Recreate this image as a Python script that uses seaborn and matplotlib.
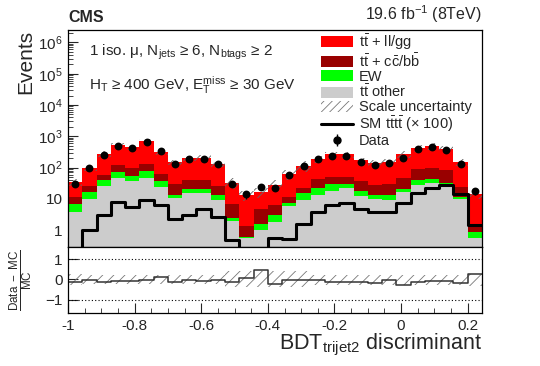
import numpy as np
import pandas as pd
import matplotlib
matplotlib.use("Agg")
import matplotlib.pyplot as plt
import seaborn as sns
from matplotlib.patches import Patch
from matplotlib.lines import Line2D
from matplotlib.ticker import FixedLocator, FixedFormatter, LogLocator, MultipleLocator, NullFormatter

# BDT_trijet2 binning: 29 bins of width 1.5/35 starting at -1
edges = np.linspace(-1.0, 0.5, 36)[:30]
centers = 0.5 * (edges[:-1] + edges[1:])
bin_list = list(edges)

# stacked backgrounds (events per bin)
tt_other = [3.8, 9.8, 26, 47, 37, 48, 24, 11, 15, 15, 9.1, 2.0, 0.55, 1.05, 1.85,
            5.8, 9.1, 13.8, 17.7, 21.6, 12.5, 9.6, 9.1, 16.4, 27.5, 32, 28, 10, 0.57]
ew = [3.0, 7.2, 14, 26, 17, 29, 13, 2.0, 5.5, 5.0, 3.9, 0.4, 0.06, 0.5, 1.15,
      1.6, 5.9, 7.7, 11.3, 9.4, 5.5, 4.2, 4.0, 3.6, 12.5, 12, 4, 1.5, 0.32]
tt_ccbb = [4.7, 9.0, 17, 47, 46, 58, 25, 16.5, 19.5, 20, 12.5, 4.4, 0.73, 3.15, 3.3,
           4.1, 8.0, 20.5, 21, 19, 18, 13.7, 17.9, 28, 47, 56, 51, 12.5, 0.51]
tt_llgg = [22.5, 73, 223, 400, 355, 565, 248, 118.5, 160, 164, 104.5, 26.2, 11.56, 11.5, 22.2,
           50.5, 92, 150, 214, 215, 135, 115.5, 119, 232, 349, 400, 308, 128, 13]

# SM tttt signal scaled by 100
tttt_x100 = [0, 1.0, 3.0, 8.0, 5.6, 9.3, 6.3, 2.2, 3.0, 4.6, 2.7, 0.48, 0, 0, 0.57,
             0.54, 1.6, 3.8, 6.6, 7.4, 4.6, 3.7, 3.7, 7.2, 14.9, 23, 27, 14, 1.5]

data = [29, 98, 250, 490, 426, 680, 350, 128, 195, 190, 126, 29, 14, 24, 22,
        60, 113, 186, 230, 236, 152, 120, 145, 210, 388, 460, 360, 129, 18]

# relative scale uncertainty (up / down)
scale_up = [0.25, 0.2, 0.2, 0.2, 0.2, 0.2, 0.2, 0.2, 0.2, 0.2, 0.2, 0.4, 0.4, 0.4, 0.4,
            0.4, 0.4, 0.22, 0.22, 0.22, 0.22, 0.22, 0.22, 0.22, 0.22, 0.22, 0.22, 0.22, 0.25]
scale_dn = [0.25, 0.2, 0.2, 0.2, 0.2, 0.2, 0.2, 0.2, 0.2, 0.2, 0.2, 0.35, 0.35, 0.35, 0.35,
            0.35, 0.35, 0.25, 0.25, 0.25, 0.25, 0.25, 0.25, 0.25, 0.25, 0.25, 0.25, 0.25, 0.3]

comp_names = ["llgg", "ccbb", "ew", "other"]
comp_colors = {"llgg": "#ff0000", "ccbb": "#990000", "ew": "#00ff00", "other": "#cccccc"}
legend_labels = [r"$\mathrm{t\bar{t}}$ + ll/gg", r"$\mathrm{t\bar{t}}$ + $\mathrm{c\bar{c}/b\bar{b}}$",
                 "EW", r"$\mathrm{t\bar{t}}$ other", "Scale uncertainty",
                 r"SM $\mathrm{t\bar{t}t\bar{t}}$ (× 100)", "Data"]

sns.set_style("ticks")
plt.rcParams["font.family"] = ["Liberation Sans", "DejaVu Sans"]
plt.rcParams["mathtext.fontset"] = "custom"
plt.rcParams["mathtext.rm"] = "Liberation Sans"
plt.rcParams["mathtext.it"] = "Liberation Sans:italic"
plt.rcParams["mathtext.bf"] = "Liberation Sans:bold"
plt.rcParams["hatch.linewidth"] = 0.6

W, H = 540, 366
fig = plt.figure(figsize=(W / 100, H / 100), dpi=100)
ax = fig.add_axes([68 / W, 1 - 247 / H, (482 - 68) / W, (247 - 30) / H])
rax = fig.add_axes([68 / W, 1 - 313 / H, (482 - 68) / W, (313 - 247) / H], sharex=ax)

df = pd.DataFrame({
    "x": np.tile(centers, 4),
    "w": np.concatenate([tt_llgg, tt_ccbb, ew, tt_other]),
    "comp": np.repeat(comp_names, len(centers)),
})
sns.histplot(df, x="x", weights="w", hue="comp", hue_order=comp_names, bins=bin_list,
             multiple="stack", element="step", palette=comp_colors, alpha=1,
             linewidth=0, legend=False, ax=ax)

total = np.array(tt_llgg) + np.array(tt_ccbb) + np.array(ew) + np.array(tt_other)
up = np.array(scale_up)
dn = np.array(scale_dn)
lo = total * (1 - dn)
hi = total * (1 + up)
ax.fill_between(edges, np.append(lo, lo[-1]), np.append(hi, hi[-1]), step="post",
                facecolor="none", edgecolor="#666666", hatch="///", linewidth=0, zorder=3)

sns.histplot(x=centers, weights=tttt_x100, bins=bin_list, element="step", fill=False,
             color="black", linewidth=2.2, ax=ax, zorder=4)

ax.errorbar(centers, data, yerr=np.sqrt(data), fmt="none", ecolor="black", elinewidth=1, zorder=5)
sns.scatterplot(x=centers, y=data, color="black", s=32, linewidth=0, zorder=6, ax=ax)

ax.set_yscale("log")
ax.set_xlim(edges[0], edges[-1])
ax.set_ylim(0.29, 2.5e6)
decades = [1, 10, 1e2, 1e3, 1e4, 1e5, 1e6]
ax.yaxis.set_major_locator(FixedLocator(decades))
ax.yaxis.set_major_formatter(FixedFormatter(["1", "10", "$10^{2}$", "$10^{3}$", "$10^{4}$",
                                             "$10^{5}$", "$10^{6}$"]))
ax.yaxis.set_minor_locator(LogLocator(base=10, subs=np.arange(2, 10), numticks=20))
ax.yaxis.set_minor_formatter(NullFormatter())
ax.xaxis.set_major_locator(MultipleLocator(0.2))
ax.xaxis.set_minor_locator(MultipleLocator(0.05))
ax.tick_params(axis="x", labelbottom=False)
ax.set_xlabel("")
ax.set_ylabel("Events", fontsize=15, loc="top")
ax.yaxis.set_label_coords(-0.08, 1.0)

for a in (ax, rax):
    a.tick_params(which="both", direction="in", top=False, right=False, labelsize=11, pad=4)
    a.tick_params(which="major", length=7, width=0.8)
    a.tick_params(which="minor", length=3.5, width=0.6)
    for s in a.spines.values():
        s.set_linewidth(0.9)
        s.set_color("black")

# ratio panel
ratio = np.array(data) / total - 1
rax.fill_between(edges, np.append(-dn, -dn[-1]), np.append(up, up[-1]), step="post",
                 facecolor="none", edgecolor="#777777", hatch="///", linewidth=0)
sns.histplot(x=centers, weights=ratio, bins=bin_list, element="step", fill=False,
             color="#333333", linewidth=1.1, ax=rax)
for yl in (1, -1):
    rax.axhline(yl, color="black", linestyle=(0, (1, 2)), linewidth=0.8)
rax.set_ylim(-1.65, 1.6)
rax.yaxis.set_major_locator(FixedLocator([-1, 0, 1]))
rax.set_xlim(edges[0], edges[-1])
rax.set_xticks([-1, -0.8, -0.6, -0.4, -0.2, 0, 0.2])
rax.set_xticklabels(["-1", "-0.8", "-0.6", "-0.4", "-0.2", "0", "0.2"])
rax.xaxis.set_minor_locator(MultipleLocator(0.05))
rax.set_ylabel(r"$\frac{\mathrm{Data\ -\ MC}}{\mathrm{MC}}$", fontsize=12)
rax.yaxis.set_label_coords(-0.08, 0.5)
rax.set_xlabel(r"BDT$_{\mathrm{trijet2}}$ discriminant", fontsize=15.5, loc="right")
rax.xaxis.set_label_coords(1.0, -0.28)
rax.xaxis.label.set_va("top")

# texts
fig.text(68 / W, 1 - 18 / H, "CMS", fontsize=11.5, fontweight="bold", va="center", ha="left")
fig.text(482 / W, 1 - 14 / H, r"19.6 fb$^{-1}$ (8TeV)", fontsize=11.5, va="center", ha="right")
fig.text(89 / W, 1 - 52 / H, r"1 iso. μ, N$_{\mathrm{jets}}$ ≥ 6, N$_{\mathrm{btags}}$ ≥ 2",
         fontsize=11, va="center", ha="left")
fig.text(89 / W, 1 - 85 / H, r"H$_{\mathrm{T}}$ ≥ 400 GeV, E$_{\mathrm{T}}^{\mathrm{miss}}$ ≥ 30 GeV",
         fontsize=11, va="center", ha="left")

handles = [Patch(facecolor=comp_colors[c], edgecolor="none") for c in comp_names]
handles.append(Patch(facecolor="white", edgecolor="#777777", hatch="////", linewidth=0))
handles.append(Line2D([], [], color="black", linewidth=2.2))
handles.append((Line2D([], [], marker="|", markersize=9, color="black", linestyle="none", mew=1),
                Line2D([], [], marker="o", markersize=5, color="black", linestyle="none")))
fig.legend(handles, legend_labels, loc="upper left", bbox_to_anchor=(321 / W, 1 - 32 / H),
           frameon=False, fontsize=10.5, handlelength=2.2, handleheight=0.8,
           labelspacing=0.0, handletextpad=0.4, borderpad=0, borderaxespad=0)

fig.savefig("out.png", dpi=100)
